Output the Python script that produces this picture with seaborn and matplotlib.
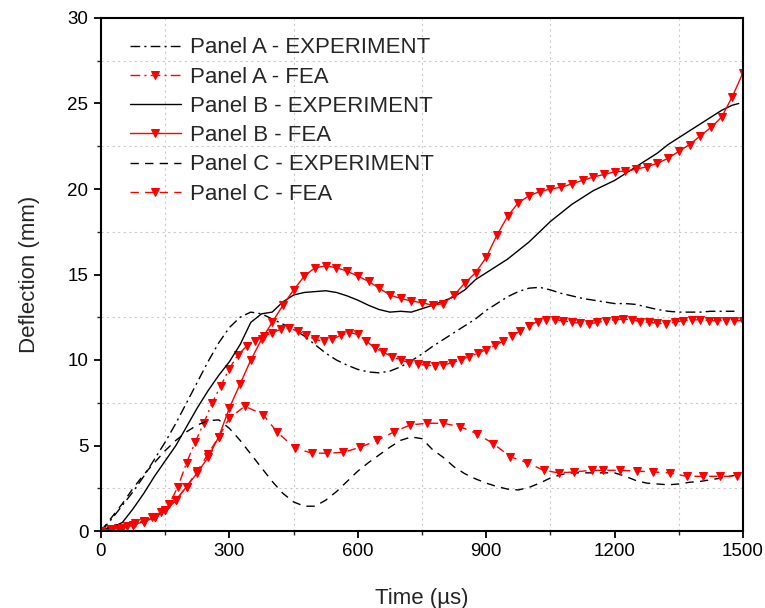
import numpy as np
import pandas as pd
import matplotlib
matplotlib.use("Agg")
import matplotlib.pyplot as plt
import seaborn as sns
from matplotlib.ticker import MultipleLocator

# ---------------- data ----------------
a_exp_t = [0, 25, 50, 75, 100, 125, 150, 175, 200, 225, 250, 275, 300, 325, 350, 375, 400, 425, 450, 475,
           500, 525, 550, 575, 600, 625, 650, 675, 700, 725, 750, 775, 800, 825, 850, 875, 900, 925, 950, 975,
           1000, 1025, 1050, 1075, 1100, 1125, 1150, 1175, 1200, 1225, 1250, 1275, 1300, 1325, 1350, 1375,
           1400, 1425, 1450, 1480]
a_exp_d = [0.0, 0.7, 1.5, 2.3, 3.2, 4.2, 5.2, 6.3, 7.5, 8.7, 9.9, 11.0, 11.9, 12.5, 12.8, 12.7, 12.4, 12.1, 11.8, 11.4,
           10.9, 10.4, 10.0, 9.7, 9.45, 9.3, 9.25, 9.35, 9.6, 9.95, 10.35, 10.8, 11.2, 11.6, 12.0, 12.4, 12.9, 13.3,
           13.7, 14.0, 14.2, 14.25, 14.1, 13.9, 13.75, 13.6, 13.5, 13.4, 13.3, 13.3, 13.25, 13.1, 12.95, 12.85,
           12.8, 12.8, 12.8, 12.85, 12.85, 12.85]

a_fea_t = list(range(0, 1501, 20))
a_fea_d = [0.0, 0.1, 0.2, 0.3, 0.45, 0.6, 0.8, 1.1, 1.6, 2.6, 4.0, 5.2, 6.3, 7.5, 8.5, 9.5, 10.3, 10.8, 11.1, 11.4,
           11.6, 11.8, 11.85, 11.7, 11.45, 11.2, 11.1, 11.2, 11.45, 11.6, 11.5, 11.1, 10.7, 10.45, 10.2, 10.0,
           9.85, 9.75, 9.7, 9.65, 9.7, 9.85, 10.0, 10.2, 10.4, 10.6, 10.85, 11.1, 11.4, 11.7, 12.0, 12.25,
           12.35, 12.35, 12.3, 12.2, 12.15, 12.1, 12.2, 12.3, 12.35, 12.4, 12.35, 12.25, 12.2, 12.15, 12.1,
           12.2, 12.3, 12.35, 12.35, 12.3, 12.3, 12.3, 12.3, 12.3]

b_exp_t = a_exp_t[:-1] + [1475, 1490]
b_exp_d = [0.1, 0.2, 0.5, 1.3, 2.2, 3.2, 4.1, 5.0, 6.1, 7.2, 8.2, 9.1, 9.9, 10.9, 12.2, 12.7, 12.8, 13.4, 13.8, 13.95,
           14.0, 14.05, 13.95, 13.75, 13.5, 13.2, 12.95, 12.8, 12.85, 12.8, 13.0, 13.2, 13.45, 13.7, 14.1, 14.7,
           15.1, 15.5, 15.9, 16.4, 16.9, 17.5, 18.1, 18.6, 19.1, 19.5, 19.9, 20.2, 20.5, 20.9, 21.3, 21.7, 22.1,
           22.6, 23.0, 23.4, 23.8, 24.2, 24.6, 24.9, 25.0]

b_fea_t = list(range(0, 1501, 25))
b_fea_d = [0.0, 0.1, 0.2, 0.35, 0.55, 0.8, 1.2, 1.8, 2.6, 3.4, 4.3, 5.5, 7.2, 8.6, 10.0, 11.2, 12.2, 13.2, 14.1, 14.9,
           15.4, 15.5, 15.4, 15.2, 14.9, 14.6, 14.2, 13.8, 13.6, 13.45, 13.35, 13.2, 13.3, 13.8, 14.5, 15.1, 16.0,
           17.3, 18.4, 19.2, 19.6, 19.85, 20.0, 20.1, 20.3, 20.5, 20.7, 20.85, 21.0, 21.05, 21.15, 21.3, 21.5,
           21.8, 22.2, 22.6, 23.1, 23.6, 24.2, 25.4, 26.8]

c_exp_t = a_exp_t
c_exp_d = [0.0, 0.8, 1.6, 2.5, 3.3, 4.0, 4.7, 5.3, 5.8, 6.2, 6.45, 6.5, 6.0, 5.3, 4.5, 3.7, 2.9, 2.2, 1.7, 1.45,
           1.45, 1.8, 2.3, 2.9, 3.5, 4.0, 4.45, 4.9, 5.3, 5.5, 5.4, 4.75, 4.3, 3.75, 3.35, 3.05, 2.8, 2.6, 2.45,
           2.4, 2.55, 2.8, 3.1, 3.3, 3.4, 3.4, 3.4, 3.4, 3.4, 3.2, 2.95, 2.8, 2.75, 2.7, 2.75, 2.85, 2.9, 3.0,
           3.1, 3.25]

c_fea_t = [0, 25, 50, 75, 100, 125, 150, 175, 200, 225, 250, 275, 300, 336, 379, 411, 453, 493, 529, 566, 606,
           645, 685, 722, 761, 800, 839, 878, 917, 956, 995, 1034, 1069, 1104, 1147, 1174, 1213, 1252, 1290,
           1329, 1368, 1407, 1446, 1485]
c_fea_d = [0.0, 0.1, 0.2, 0.35, 0.55, 0.8, 1.2, 1.8, 2.6, 3.5, 4.5, 5.5, 6.6, 7.3, 6.8, 5.8, 4.85, 4.55, 4.55,
           4.6, 4.9, 5.3, 5.8, 6.2, 6.3, 6.3, 6.1, 5.7, 5.1, 4.35, 4.0, 3.55, 3.4, 3.45, 3.55, 3.55, 3.55,
           3.5, 3.45, 3.4, 3.2, 3.2, 3.2, 3.2]

x_ticks = [0, 300, 600, 900, 1200, 1500]
y_ticks = [0, 5, 10, 15, 20, 25, 30]

# ---------------- style ----------------
sns.set_style("ticks")
plt.rcParams['font.family'] = ['Liberation Sans', 'DejaVu Sans']
plt.rcParams['lines.scale_dashes'] = False

fig = plt.figure(figsize=(7.65, 6.08), dpi=100)
ax = fig.add_axes([101 / 765, 77 / 608, 642 / 765, 513 / 608])

RED = '#ff0000'
dashdot = (0, (7, 3, 1.5, 3))
dashed = (0, (6, 4.5))
ms = 6

sns.lineplot(x=a_exp_t, y=a_exp_d, ax=ax, color='black', lw=1.0, linestyle=dashdot,
             label='Panel A - EXPERIMENT', sort=False, estimator=None)
sns.lineplot(x=a_fea_t, y=a_fea_d, ax=ax, color=RED, lw=1.0, linestyle=dashdot, marker='v',
             markersize=ms, markeredgecolor=RED, markerfacecolor=RED,
             label='Panel A - FEA', sort=False, estimator=None)
sns.lineplot(x=b_exp_t, y=b_exp_d, ax=ax, color='black', lw=1.0, linestyle='-',
             label='Panel B - EXPERIMENT', sort=False, estimator=None)
sns.lineplot(x=b_fea_t, y=b_fea_d, ax=ax, color=RED, lw=1.0, linestyle='-', marker='v',
             markersize=ms, markeredgecolor=RED, markerfacecolor=RED,
             label='Panel B - FEA', sort=False, estimator=None)
sns.lineplot(x=c_exp_t, y=c_exp_d, ax=ax, color='black', lw=1.0, linestyle=dashed,
             label='Panel C - EXPERIMENT', sort=False, estimator=None)
sns.lineplot(x=c_fea_t, y=c_fea_d, ax=ax, color=RED, lw=1.0, linestyle=dashed, marker='v',
             markersize=ms, markeredgecolor=RED, markerfacecolor=RED,
             label='Panel C - FEA', sort=False, estimator=None)

ax.set_xlim(0, 1500)
ax.set_ylim(0, 30)
ax.set_xticks(x_ticks)
ax.set_yticks(y_ticks)
ax.xaxis.set_minor_locator(MultipleLocator(150))
ax.yaxis.set_minor_locator(MultipleLocator(2.5))
ax.tick_params(which='major', direction='out', length=5, width=1.3, labelsize=13.5, colors='black',
               top=False, right=False, pad=4)
ax.tick_params(which='minor', direction='out', length=3, width=1.0, top=False, right=False)
ax.grid(False, which='major')
ax.grid(True, which='minor', color='#c8c8c8', linestyle=(0, (1.5, 2.5)), linewidth=0.8)
for s in ax.spines.values():
    s.set_visible(True)
    s.set_color('black')
    s.set_linewidth(1.5)

ax.set_xlabel('Time (µs)', fontsize=16, labelpad=20)
ax.set_ylabel('Deflection (mm)', fontsize=16, labelpad=20)

leg = ax.legend(loc='upper left', bbox_to_anchor=(0.045, 0.962), frameon=False, fontsize=16,
                handlelength=2.3, handletextpad=0.4, labelspacing=0.37, borderpad=0, borderaxespad=0,
                numpoints=1, markerscale=1.0)

fig.savefig('out.png', dpi=100)
